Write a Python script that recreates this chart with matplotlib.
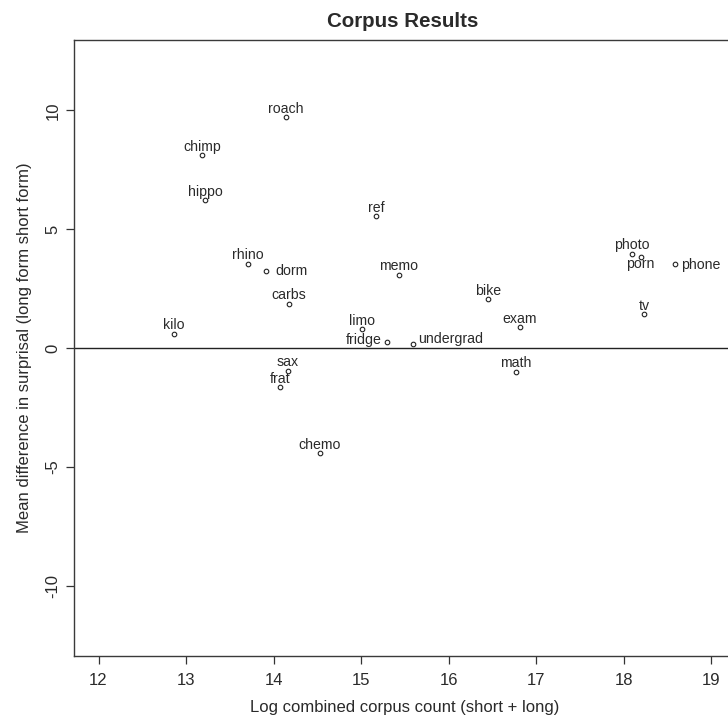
import matplotlib
matplotlib.use("Agg")
import matplotlib.pyplot as plt

plt.rcParams['font.family'] = ['Liberation Sans', 'DejaVu Sans']

# ---- data ----
words = ["roach", "chimp", "hippo", "ref", "rhino", "dorm", "memo", "carbs",
         "kilo", "limo", "fridge", "undergrad", "sax", "frat", "chemo",
         "photo", "porn", "phone", "bike", "exam", "tv", "math"]
log_count = [14.14, 13.18, 13.22, 15.17, 13.71, 13.91, 15.43, 14.17,
             12.86, 15.01, 15.29, 15.59, 14.16, 14.07, 14.53,
             18.09, 18.19, 18.58, 16.45, 16.81, 18.23, 16.77]
surprisal_diff = [9.70, 8.11, 6.21, 5.54, 3.55, 3.23, 3.09, 1.87,
                  0.61, 0.80, 0.27, 0.15, -0.95, -1.66, -4.43,
                  3.97, 3.83, 3.52, 2.06, 0.89, 1.41, -1.00]
x_ticks = [12, 13, 14, 15, 16, 17, 18, 19]
y_ticks = [-10, -5, 0, 5, 10]

title = "Corpus Results"
x_label = "Log combined corpus count (short + long)"
y_label = "Mean difference in surprisal (long form short form)"

# label placement (pixel offsets from point, horizontal alignment)
default_place = (0, 4.3, "center")
special_place = {
    "dorm": (9.7, -4.0, "left"),
    "phone": (6.4, -4.3, "left"),
    "undergrad": (5.0, 1.6, "left"),
    "fridge": (-5.0, -2.0, "right"),
    "porn": (0, -11.0, "center"),
}

W, H = 728, 720
fig = plt.figure(figsize=(W / 100, H / 100), dpi=100)
left, right, top, bottom = 74, 736, 40, 656
ax = fig.add_axes([left / W, 1 - bottom / H, (right - left) / W, (bottom - top) / H])
ax.set_xlim(11.72, 19.28)
ax.set_ylim(-12.96, 12.96)

ink = "#2a2a2a"
ax.axhline(0, color="#222222", lw=1.0, zorder=1)
ax.plot(log_count, surprisal_diff, "o", ms=3.3, mfc="none", mec="#222222", mew=0.8,
        zorder=2, clip_on=False)

px2pt = 0.72
for w, xv, yv in zip(words, log_count, surprisal_diff):
    dx, dy, ha = special_place.get(w, default_place)
    ax.annotate(w, (xv, yv), xytext=(dx * px2pt, dy * px2pt),
                textcoords="offset points", ha=ha, va="baseline",
                fontsize=10.2, color=ink)

for s in ax.spines.values():
    s.set_color("#3a3a3a")
    s.set_linewidth(1.0)

ax.set_xticks(x_ticks)
ax.set_xticklabels([str(t) for t in x_ticks])
ax.set_yticks(y_ticks)
ax.set_yticklabels([str(t) for t in y_ticks], rotation=90, va="center")
ax.tick_params(axis="both", length=5.8, width=0.9, color="#333333",
               labelsize=12, labelcolor=ink)
ax.tick_params(axis="x", pad=6.5)
ax.tick_params(axis="y", pad=3.8)

fig.text(402.7 / W, 1 - 26.7 / H, title, ha="center", va="baseline",
         fontsize=14.8, fontweight="bold", color=ink)
fig.text(405 / W, 1 - 712 / H, x_label, ha="center", va="baseline",
         fontsize=12, color=ink)
fig.text(24.2 / W, 1 - 348 / H, y_label, ha="center", va="center",
         rotation=90, fontsize=12, color=ink)

fig.savefig("out.png", dpi=100)
